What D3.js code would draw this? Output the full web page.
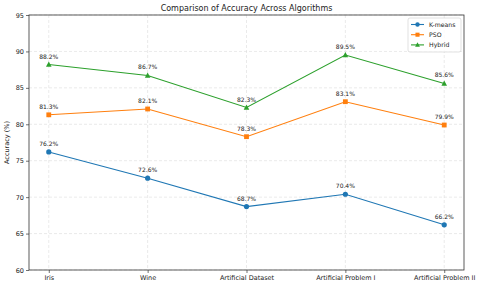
<!DOCTYPE html>
<html>
<head>
<meta charset="utf-8">
<script src="https://cdn.jsdelivr.net/npm/d3@7"></script>
<style>
body { margin: 0; background: #fff; }
text { font-family: "DejaVu Sans", sans-serif; fill: #222; }
</style>
</head>
<body>
<script>
// chart size
var width = 480;
var height = 289;

var datasets = ["Iris", "Wine", "Artificial Dataset", "Artificial Problem I", "Artificial Problem II"];
var kmeans = [76.2, 72.6, 68.7, 70.4, 66.2];
var pso = [81.3, 82.1, 78.3, 83.1, 79.9];
var hybrid = [88.2, 86.7, 82.3, 89.5, 85.6];
var yTicks = [60, 65, 70, 75, 80, 85, 90, 95];

var series = [
	{name: "K-means", values: kmeans, color: "#1f77b4", marker: "circle"},
	{name: "PSO", values: pso, color: "#ff7f0e", marker: "square"},
	{name: "Hybrid", values: hybrid, color: "#2ca02c", marker: "triangle"}
];

var margin = {top: 15, right: 16, bottom: 19, left: 29};

var svg = d3.select("body")
			.append("svg")
			.attr("width", width)
			.attr("height", height);

var x = d3.scalePoint()
		  .domain(datasets)
		  .range([margin.left, width - margin.right])
		  .padding(0.2);

var y = d3.scaleLinear()
		  .domain([60, 95])
		  .range([height - margin.bottom, margin.top]);

// grid lines
svg.append("g")
	.selectAll("line")
	.data(yTicks)
	.enter()
	.append("line")
	.attr("x1", margin.left)
	.attr("x2", width - margin.right)
	.attr("y1", function(d) { return y(d); })
	.attr("y2", function(d) { return y(d); })
	.style("stroke", "#dcdcdc")
	.style("stroke-width", 0.6)
	.style("stroke-dasharray", "3,2");

svg.append("g")
	.selectAll("line")
	.data(datasets)
	.enter()
	.append("line")
	.attr("x1", function(d) { return x(d); })
	.attr("x2", function(d) { return x(d); })
	.attr("y1", margin.top)
	.attr("y2", height - margin.bottom)
	.style("stroke", "#dcdcdc")
	.style("stroke-width", 0.6)
	.style("stroke-dasharray", "3,2");

// axes
var xAxis = svg.append("g")
	.attr("transform", "translate(0," + (height - margin.bottom) + ")")
	.call(d3.axisBottom(x).tickSize(3).tickPadding(2));

var yAxis = svg.append("g")
	.attr("transform", "translate(" + margin.left + ",0)")
	.call(d3.axisLeft(y).tickValues(yTicks).tickSize(3).tickPadding(2));

[xAxis, yAxis].forEach(function(a) {
	a.select(".domain").remove();
	a.selectAll("text").style("font-size", "6.5px").style("font-family", "DejaVu Sans, sans-serif").style("fill", "#222");
	a.selectAll("line").style("stroke", "#333").style("stroke-width", 0.7);
});

// frame
svg.append("rect")
	.attr("x", margin.left)
	.attr("y", margin.top)
	.attr("width", width - margin.right - margin.left)
	.attr("height", height - margin.bottom - margin.top)
	.style("fill", "none")
	.style("stroke", "#333")
	.style("stroke-width", 0.8);

var line = d3.line()
	.x(function(d, i) { return x(datasets[i]); })
	.y(function(d) { return y(d); });

function drawMarker(g, type, cx, cy, color, sz) {
	sz = sz || 1;
	if (type == "circle") {
		g.append("circle").attr("cx", cx).attr("cy", cy).attr("r", 2.6 * sz).style("fill", color);
	} else if (type == "square") {
		g.append("rect").attr("x", cx - 2.4 * sz).attr("y", cy - 2.4 * sz).attr("width", 4.8 * sz).attr("height", 4.8 * sz).style("fill", color);
	} else {
		g.append("path")
			.attr("d", "M" + cx + "," + (cy - 3 * sz) + "L" + (cx + 2.8 * sz) + "," + (cy + 2.2 * sz) + "L" + (cx - 2.8 * sz) + "," + (cy + 2.2 * sz) + "Z")
			.style("fill", color);
	}
}

series.forEach(function(s) {
	var g = svg.append("g");
	g.append("path")
		.datum(s.values)
		.attr("d", line)
		.style("fill", "none")
		.style("stroke", s.color)
		.style("stroke-width", 1.1);
	s.values.forEach(function(v, i) {
		drawMarker(g, s.marker, x(datasets[i]), y(v), s.color);
		g.append("text")
			.attr("x", x(datasets[i]))
			.attr("y", y(v) - 6)
			.attr("text-anchor", "middle")
			.style("font-size", "6px")
			.text(v.toFixed(1) + "%");
	});
});

// title and labels
svg.append("text")
	.attr("x", (margin.left + width - margin.right) / 2)
	.attr("y", 11)
	.attr("text-anchor", "middle")
	.style("font-size", "8px")
	.text("Comparison of Accuracy Across Algorithms");

svg.append("text")
	.attr("transform", "translate(9," + ((margin.top + height - margin.bottom) / 2) + ") rotate(-90)")
	.attr("text-anchor", "middle")
	.style("font-size", "6.5px")
	.text("Accuracy (%)");

// legend
var legend = svg.append("g");
legend.append("rect")
	.attr("x", 408)
	.attr("y", 18)
	.attr("width", 53)
	.attr("height", 34)
	.attr("rx", 2)
	.style("fill", "#fff")
	.style("fill-opacity", 0.8)
	.style("stroke", "#ccc")
	.style("stroke-width", 0.6);

series.forEach(function(s, i) {
	var ly = 24.5 + i * 10.2;
	legend.append("line")
		.attr("x1", 411)
		.attr("x2", 424)
		.attr("y1", ly)
		.attr("y2", ly)
		.style("stroke", s.color)
		.style("stroke-width", 1.1);
	drawMarker(legend, s.marker, 417.5, ly, s.color, 0.85);
	legend.append("text")
		.attr("x", 429)
		.attr("y", ly + 2.2)
		.style("font-size", "6.2px")
		.text(s.name);
});
</script>
</body>
</html>
